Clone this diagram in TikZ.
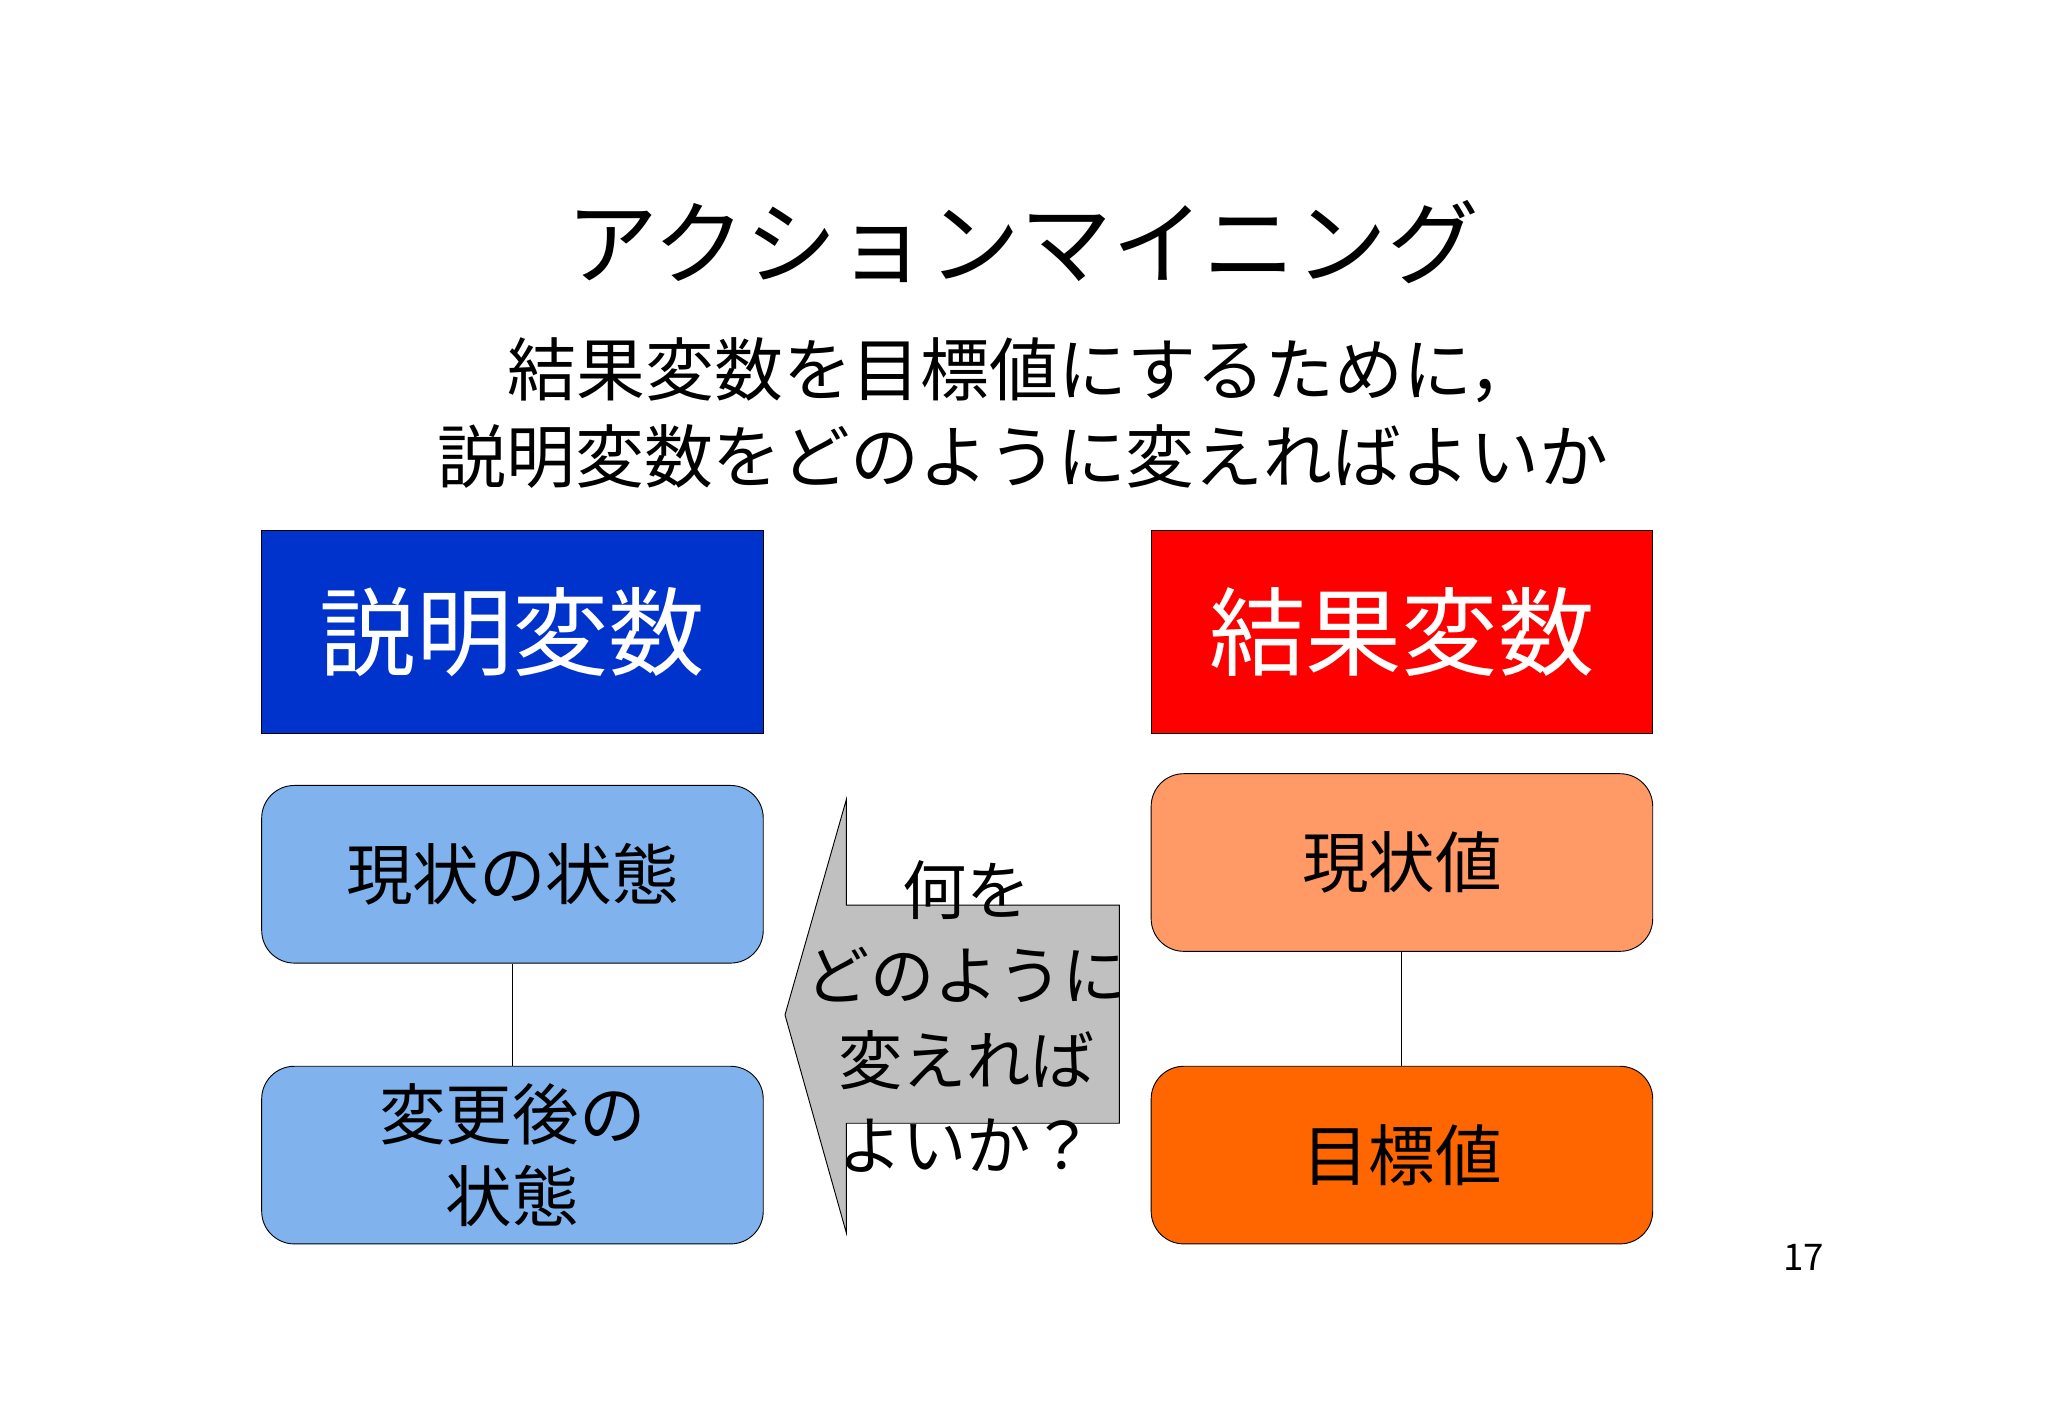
\documentclass[tikz,border=0pt]{standalone}
\usepackage{fontspec}
\setmainfont{Noto Sans CJK JP}
\begin{document}
\begin{tikzpicture}[x=0.02cm,y=-0.02cm,
 hb/.style={draw=black,minimum width=384*0.02cm,minimum height=155*0.02cm,anchor=north west,inner sep=0pt,text=white,font=\fontsize{42}{48}\selectfont},
 rb/.style={draw=black,rounded corners=0.5cm,minimum width=384*0.02cm,minimum height=136*0.02cm,anchor=north west,inner sep=0pt,align=center,font=\fontsize{29}{36}\selectfont}]
\fill[white] (0,0) rectangle (1568,1086);
\node (title) at (783,185) {\fontsize{40}{48}\selectfont アクションマイニング};
\node (sub) at (783,316) [align=center,font=\fontsize{30}{38}\selectfont] {結果変数を目標値にするために，\\説明変数をどのように変えればよいか};
\node[hb,fill={rgb,255:red,0;green,51;blue,204}] (ex) at (200,406) {説明変数};
\node[hb,fill={rgb,255:red,255;green,0;blue,0}] (res) at (881,406) {結果変数};
\node[rb,fill={rgb,255:red,128;green,179;blue,238}] (cur) at (200,601) {現状の状態};
\node[rb,fill={rgb,255:red,128;green,179;blue,238}] (aft) at (200,816) {変更後の\\状態};
\node[rb,fill={rgb,255:red,255;green,153;blue,102}] (cv) at (881,592) {現状値};
\node[rb,fill={rgb,255:red,255;green,102;blue,0}] (tv) at (881,816) {目標値};
\draw (cur) -- (aft);
\draw (cv) -- (tv);
\draw[fill={rgb,255:red,192;green,192;blue,192}] (601,777) -- (648,612) -- (648,693) -- (857,693) -- (857,860) -- (648,860) -- (648,944) -- cycle;
\node (q) at (740,778) [align=center,font=\fontsize{28}{37}\selectfont] {何を\\どのように\\変えれば\\よいか？};
\node (pg) at (1381,963) {\fontsize{16}{18}\selectfont 17};
\end{tikzpicture}
\end{document}
